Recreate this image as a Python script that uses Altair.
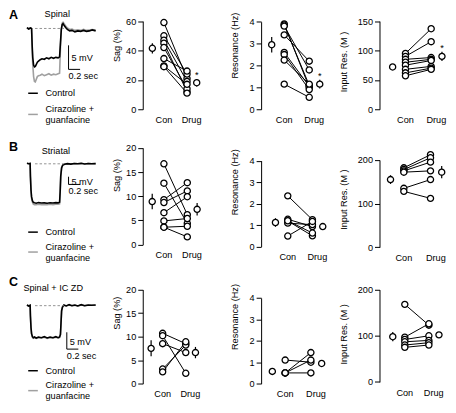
import altair as alt
import pandas as pd

S = 0.965
OX, OY = 2.0, 3.0
FONT = "Liberation Sans"
FS = 9.5 * S

# ---------------- text ----------------
ROW_LETTERS = ["A", "B", "C"]
ROW_NAMES = ["Spinal", "Striatal", "Spinal + IC ZD"]
LEGEND_CON = "Control"
LEGEND_DRUG = ["Cirazoline +", "guanfacine"]
COND_LABELS = ["Con", "Drug"]
Y_TITLES = ["Sag (%)", "Resonance (Hz)", "Input Res. (M  )"]
Y_MAX = [[60, 4, 150], [20, 4, 200], [20, 4, 200]]
Y_STEP = [[20, 1, 50], [5, 1, 100], [5, 1, 100]]

# ---------------- paired data (con[i] -> drug[i]) ----------------
A_SAG_CON = [59, 50, 47, 45, 42, 34.5, 29.5, 29]
A_SAG_DRUG = [21, 24, 19, 12, 14, 26, 17, 11]
A_SAG_MEAN = [41.5, 18.1]
A_SAG_SEM = [3.5, 2.5]

A_RES_CON = [3.9, 3.85, 3.8, 3.4, 2.6, 2.5, 2.25, 1.15]
A_RES_DRUG = [1.0, 1.1, 1.8, 2.2, 1.05, 0.9, 1.15, 0.55]
A_RES_MEAN = [2.95, 1.15]
A_RES_SEM = [0.35, 0.2]

A_IN_CON = [95, 90, 85, 80, 75, 68, 62, 57]
A_IN_DRUG = [137, 115, 88, 85, 83, 73, 70, 68]
A_IN_MEAN = [72, 90]
A_IN_SEM = [5, 8]

B_SAG_CON = [16.7, 12.7, 9.3, 8.7, 6.6, 4.9, 3.6, 3.6]
B_SAG_DRUG = [6.2, 4.4, 12.8, 11.1, 9.9, 5.4, 3.8, 1.6]
B_SAG_MEAN = [8.9, 7.3]
B_SAG_SEM = [1.6, 1.3]

B_RES_CON = [2.36, 1.27, 1.19, 1.09, 0.49, 1.2]
B_RES_DRUG = [1.25, 0.93, 0.5, 1.02, 1.17, 0.63]
B_RES_MEAN = [1.12, 0.93]
B_RES_SEM = [0.2, 0.1]

B_IN_CON = [182, 178, 175, 172, 135, 128]
B_IN_DRUG = [212, 205, 195, 175, 155, 112]
B_IN_MEAN = [155, 172]
B_IN_SEM = [10, 14]

C_SAG_CON = [10.7, 10.2, 8.5, 3.1, 2.5]
C_SAG_DRUG = [8.5, 2.2, 6.6, 8.2, 8.9]
C_SAG_MEAN = [7.5, 6.6]
C_SAG_SEM = [1.7, 1.2]

C_RES_CON = [1.1, 0.5, 0.5, 0.5]
C_RES_DRUG = [1.0, 1.45, 1.1, 0.5]
C_RES_MEAN = [0.57, 0.94]
C_RES_SEM = [0.0, 0.0]

C_IN_CON = [168, 97, 92, 87, 80, 75]
C_IN_DRUG = [123, 126, 100, 90, 85, 80]
C_IN_MEAN = [98, 102]
C_IN_SEM = [10, 6]

STARS = [[True, True, True], [False, False, False], [False, False, False]]

# ---------------- voltage traces (ms, mV re. baseline) ----------------
TRACE_A_T = [0, 30, 60, 80, 90, 100, 115, 130, 145, 160, 180, 200, 230, 260, 300, 340, 380, 420, 460, 500,
             540, 565, 580, 595, 610, 625, 645, 670, 700, 740, 780, 830, 880, 930, 980, 1030, 1080, 1130, 1190]
TRACE_A_CON = [0.2, -0.1, 0.1, 0.0, -3.5, -6.0, -7.6, -8.0, -7.9, -7.5, -7.0, -6.8, -6.5, -6.3, -6.4, -6.1, -6.3, -6.0, -6.2, -6.0,
               -6.1, -5.9, -3.0, -0.2, 0.8, 1.0, 0.6, 0.2, -0.2, -0.5, -0.4, -0.7, -0.5, -0.6, -0.4, -0.6, -0.5, -0.3, -0.5]
TRACE_A_DRUG = [0.2, -0.1, 0.1, 0.0, -4.0, -7.5, -10.0, -11.0, -11.1, -10.6, -10.0, -9.8, -9.7, -9.5, -9.8, -9.6, -9.4, -9.7, -9.5, -9.6,
                -9.4, -9.3, -4.0, -0.2, 1.1, 1.3, 1.0, 0.5, 0.1, -0.2, -0.1, -0.4, -0.3, -0.4, -0.2, -0.4, -0.3, -0.2, -0.3]

TRACE_B_T = [0, 30, 55, 60, 70, 80, 95, 110, 130, 160, 200, 250, 300, 350, 400, 450, 500, 540, 565, 575,
             585, 600, 620, 650, 700, 760, 820, 880, 940, 1000, 1060, 1120, 1190]
TRACE_B_CON = [0.3, 0.0, 0.2, -8, -17, -21.5, -24, -25.0, -25.3, -25.6, -25.2, -25.5, -25.4, -25.6, -25.3, -25.5, -25.2, -25.4, -25.0, -18,
               -8, -2.5, -0.8, -0.3, 0.1, -0.2, 0.2, 0.0, 0.3, -0.1, 0.2, 0.0, 0.1]
TRACE_B_DRUG = [0.3, 0.0, 0.2, -8.5, -17.5, -22.5, -25, -26.2, -26.5, -26.6, -26.3, -26.5, -26.4, -26.6, -26.3, -26.5, -26.2, -26.3, -26.0, -19,
                -8.5, -2.8, -0.9, -0.3, 0.0, -0.1, 0.1, 0.0, 0.2, -0.1, 0.1, 0.0, 0.1]

TRACE_C_T = [0, 30, 55, 60, 70, 80, 95, 110, 130, 160, 200, 250, 300, 350, 400, 450, 500, 540, 565, 580,
             590, 600, 615, 640, 680, 730, 780, 830, 880, 940, 1000, 1060, 1120, 1190]
TRACE_C_CON = [0.2, -0.1, 0.1, -3, -6.5, -8.3, -9.2, -9.5, -9.3, -9.6, -9.3, -9.5, -9.2, -9.6, -9.3, -9.5, -9.2, -9.5, -9.3, -8.5,
               -5, -1.5, -0.4, 0.2, -0.1, 0.3, 0.0, 0.2, -0.1, 0.3, 0.0, 0.2, 0.1, 0.2]
TRACE_C_DRUG = [0.2, -0.1, 0.1, -3.2, -6.8, -8.5, -9.4, -9.7, -9.5, -9.7, -9.5, -9.6, -9.4, -9.7, -9.5, -9.6, -9.4, -9.6, -9.5, -8.7,
                -5.2, -1.6, -0.4, 0.1, -0.1, 0.2, 0.0, 0.1, -0.1, 0.2, 0.0, 0.1, 0.1, 0.1]

DASH_T = [140, 640]
SB_T = [720, 720, 690]
SB_V = [-3.5, -8.4, -7.9]
SB_MV = 5
SB_MS = 200

# ---------------- layout (reference pixels) ----------------
AXIS_X = [[142, 265, 388], [142, 265, 388], [142, 265, 388]]
Y_RANGE = [[(106.7, 15), (106.7, 15.7), (106.7, 15)],
           [(247.3, 146.7), (249.3, 160), (250, 159.3)],
           [(391.7, 294), (391.7, 302.7), (390, 294)]]
X_PTS = [[(164, 188), (289, 315), (415, 441.7)],
         [(164, 188.3), (292.7, 318.3), (413.3, 441)],
         [(162.7, 186.7), (290, 316.7), (414.3, 439.3)]]
TITLE_X = [-27, -28, -37]
TITLE_Y = [[40, 40, 57], [175, 182, 200], [318, 322, 340]]
MEAN_X = [0.5, 2.42]
LABEL_X = [1.0, 2.2]
ROW_TOP = [3, 140, 280]
TR_X0 = 21.7
TR_KX = 0.06
BASE_Y = [22.7, 163.3, 310.7]
KV = [5.0, 1.6, 3.5]
TOTAL_W, TOTAL_H = 454, 410


def cx(v):
    return (v - OX) * S


def cy(v):
    return (v - OY) * S


def txt(x, y, t, size=FS, weight="normal", align="left", color="black"):
    return alt.Chart(pd.DataFrame({"t": [t]})).mark_text(
        font=FONT, fontSize=size, fontWeight=weight, align=align, baseline="middle", color=color
    ).encode(x=alt.value(x), y=alt.value(y), text="t:N")


def hline(x1, x2, y, color, width=1.5):
    return alt.Chart(pd.DataFrame({"a": [0]})).mark_rule(color=color, strokeWidth=width).encode(
        x=alt.value(x1), x2=alt.value(x2), y=alt.value(y))


def trace_layers(r, t, con, drug):
    top = ROW_TOP[r]
    xs = alt.Scale(domain=[0, 1000], range=[cx(TR_X0), cx(TR_X0 + 1000 * TR_KX)], zero=False, nice=False)
    ys = alt.Scale(domain=[0, -10], range=[cy(BASE_Y[r]), cy(BASE_Y[r] + 10 * KV[r])], zero=False, nice=False)
    X = lambda f: alt.X(f"{f}:Q", scale=xs, axis=None)
    Y = lambda f: alt.Y(f"{f}:Q", scale=ys, axis=None)
    df = pd.DataFrame({"t": t, "con": con, "drug": drug})
    out = [
        alt.Chart(df).mark_line(color="#a0a0a0", strokeWidth=1.6).encode(x=X("t"), y=Y("drug")),
        alt.Chart(df).mark_line(color="black", strokeWidth=1.6).encode(x=X("t"), y=Y("con")),
        alt.Chart(pd.DataFrame({"t": [DASH_T[0]], "t2": [DASH_T[1]], "v": [0]})).mark_rule(
            color="#888888", strokeDash=[2.5, 2], strokeWidth=0.9).encode(x=X("t"), x2="t2:Q", y=Y("v")),
    ]
    sb = pd.DataFrame({"t": [SB_T[r]], "t2": [SB_T[r] + SB_MS], "v": [SB_V[r]], "v2": [SB_V[r] - SB_MV]})
    out.append(alt.Chart(sb).mark_rule(color="black", strokeWidth=1).encode(x=X("t"), y=Y("v"), y2="v2:Q"))
    out.append(alt.Chart(sb).mark_rule(color="black", strokeWidth=1).encode(x=X("t"), x2="t2:Q", y=Y("v2")))
    sbx = TR_X0 + SB_T[r] * TR_KX
    sby_top = BASE_Y[r] - SB_V[r] * KV[r]
    sby_bot = sby_top + SB_MV * KV[r]
    out += [txt(cx(sbx + 3), cy((sby_top + sby_bot) / 2 + 1), "5 mV"),
            txt(cx(sbx), cy(sby_bot + 7), "0.2 sec"),
            txt(cx(3), cy(top + 6), ROW_LETTERS[r], size=13 * S, weight="bold")]
    name_x = [40, 37, 18][r]
    name_y = [5, 10, 12][r]
    out.append(txt(cx(name_x), cy(top + name_y), ROW_NAMES[r]))
    leg_y = [(90, 106.7, 118.3, 112), (234.3, 249.3, 260.7, 255), (378.3, 393.3, 405, 399)][r]
    out += [hline(cx(23), cx(33), cy(leg_y[0]), "black"),
            hline(cx(23), cx(33), cy(leg_y[3]), "#a0a0a0"),
            txt(cx(41), cy(leg_y[0]), LEGEND_CON),
            txt(cx(41), cy(leg_y[1]), LEGEND_DRUG[0]),
            txt(cx(41), cy(leg_y[2]), LEGEND_DRUG[1])]
    return out


def scatter_layers(r, c, con, drug, mean, sem):
    zero_y, max_y = Y_RANGE[r][c]
    xc, xd = X_PTS[r][c]
    ymax = Y_MAX[r][c]
    xs = alt.Scale(domain=[1, 2], range=[cx(xc), cx(xd)], zero=False, nice=False)
    ys = alt.Scale(domain=[0, ymax], range=[cy(zero_y), cy(max_y)], zero=False, nice=False)
    yaxis = alt.Axis(orient="left", offset=-cx(AXIS_X[r][c]), values=list(range(0, ymax + 1, Y_STEP[r][c])),
                     title=Y_TITLES[c], grid=False, domainColor="black", tickColor="black", labelColor="black",
                     titleColor="black", labelFont=FONT, titleFont=FONT, labelFontSize=FS, titleFontSize=FS,
                     titleFontWeight="normal", tickSize=5, labelPadding=2, domainWidth=1, tickWidth=1,
                     titleX=TITLE_X[c] * S, titleY=cy(TITLE_Y[r][c]), titleBaseline="middle",
                     titleAlign="center", titleAngle=270, labelOverlap=False)
    X = lambda f: alt.X(f"{f}:Q", scale=xs, axis=None)
    Y = lambda f, ax=None: alt.Y(f"{f}:Q", scale=ys, axis=ax)
    n = len(con)
    df = pd.DataFrame({"id": list(range(n)) * 2, "x": [1] * n + [2] * n, "v": list(con) + list(drug)})
    md = pd.DataFrame({"x": MEAN_X, "v": mean, "lo": [m - s for m, s in zip(mean, sem)],
                       "hi": [m + s for m, s in zip(mean, sem)]})
    circ = dict(shape="circle", size=38, filled=True, fill="white", stroke="black", strokeWidth=1.3, opacity=1)
    out = [
        alt.Chart(df).mark_line(color="black", strokeWidth=1).encode(x=X("x"), y=Y("v", yaxis), detail="id:N"),
        alt.Chart(df).mark_point(**circ).encode(x=X("x"), y=Y("v")),
        alt.Chart(md).mark_rule(color="black", strokeWidth=1.2).encode(x=X("x"), y=Y("lo"), y2="hi:Q"),
        alt.Chart(md).mark_point(**circ).encode(x=X("x"), y=Y("v")),
        alt.Chart(pd.DataFrame({"x": LABEL_X, "t": COND_LABELS})).mark_text(
            font=FONT, fontSize=FS, color="black", baseline="middle", align="center"
        ).encode(x=X("x"), y=alt.value(cy(zero_y + 11)), text="t:N"),
    ]
    if STARS[r][c]:
        sd = pd.DataFrame({"x": [MEAN_X[1]], "v": [mean[1] + sem[1]], "t": ["*"]})
        out.append(alt.Chart(sd).mark_text(font=FONT, fontSize=FS, color="black", baseline="middle",
                                           align="center", dy=-4).encode(x=X("x"), y=Y("v"), text="t:N"))
    return out


ROWS = [
    (TRACE_A_T, TRACE_A_CON, TRACE_A_DRUG,
     [(A_SAG_CON, A_SAG_DRUG, A_SAG_MEAN, A_SAG_SEM), (A_RES_CON, A_RES_DRUG, A_RES_MEAN, A_RES_SEM),
      (A_IN_CON, A_IN_DRUG, A_IN_MEAN, A_IN_SEM)]),
    (TRACE_B_T, TRACE_B_CON, TRACE_B_DRUG,
     [(B_SAG_CON, B_SAG_DRUG, B_SAG_MEAN, B_SAG_SEM), (B_RES_CON, B_RES_DRUG, B_RES_MEAN, B_RES_SEM),
      (B_IN_CON, B_IN_DRUG, B_IN_MEAN, B_IN_SEM)]),
    (TRACE_C_T, TRACE_C_CON, TRACE_C_DRUG,
     [(C_SAG_CON, C_SAG_DRUG, C_SAG_MEAN, C_SAG_SEM), (C_RES_CON, C_RES_DRUG, C_RES_MEAN, C_RES_SEM),
      (C_IN_CON, C_IN_DRUG, C_IN_MEAN, C_IN_SEM)]),
]

layers = []
for r, (t, tc, td, sc) in enumerate(ROWS):
    layers += trace_layers(r, t, tc, td)
    for c, (con, drug, mean, sem) in enumerate(sc):
        layers += scatter_layers(r, c, con, drug, mean, sem)

chart = (alt.layer(*layers)
         .resolve_scale(x="independent", y="independent")
         .properties(width=cx(TOTAL_W), height=cy(TOTAL_H), padding=0)
         .configure_view(strokeWidth=0))

chart.save("out.html", embed_options={"renderer": "svg", "actions": False})
